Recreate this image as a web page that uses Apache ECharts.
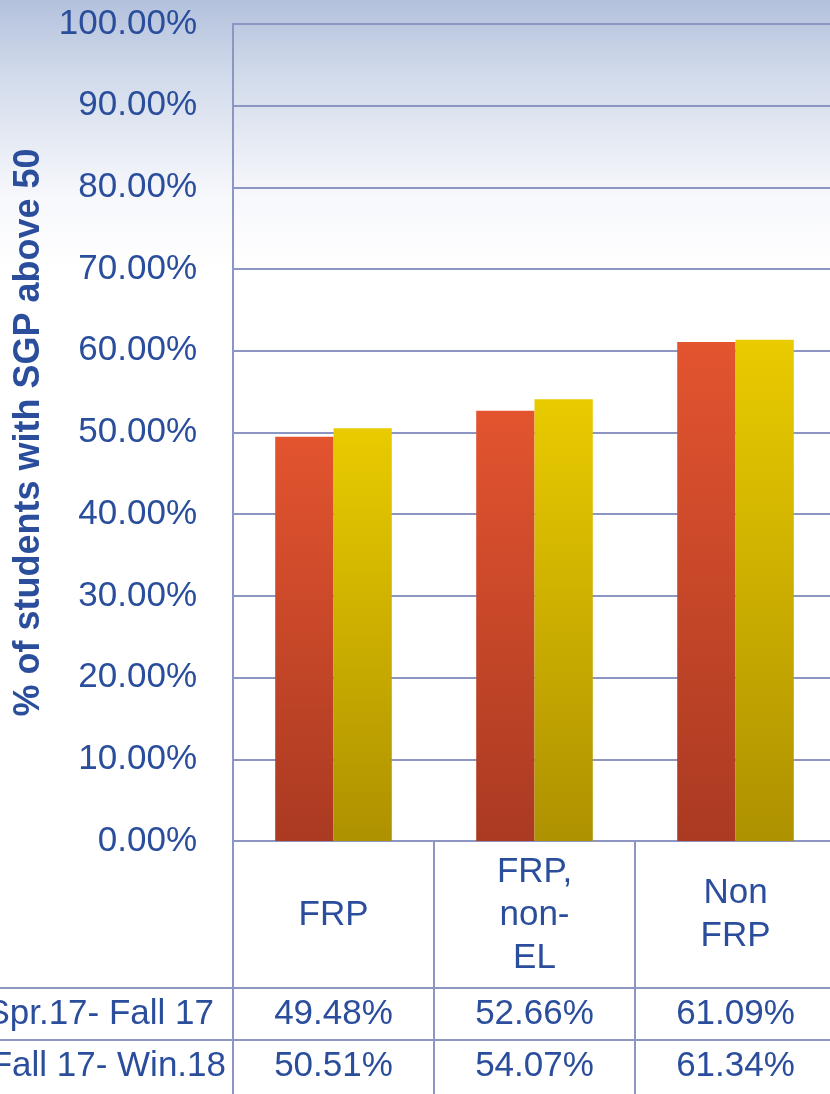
<!DOCTYPE html>
<html>
<head>
<meta charset="utf-8">
<script src="https://cdn.jsdelivr.net/npm/echarts@6/dist/echarts.min.js"></script>
<style>
  html, body { margin: 0; padding: 0; background: #fff; }
  #main { width: 830px; height: 1094px; }
</style>
</head>
<body>
<div id="main"></div>
<script>
// data
var categories = ['FRP', 'FRP,\nnon-\nEL', 'Non\nFRP'];
var seriesNames = ['Spr.17- Fall 17', 'Fall 17- Win.18'];
var spr17Fall17 = [0.4948, 0.5266, 0.6109];
var fall17Win18 = [0.5051, 0.5407, 0.6134];

var blue = '#2b4e9c';
var gridColor = '#8d95c2';
var font = 'Liberation Sans';

var myChart = echarts.init(document.getElementById('main'));

function pct(v) {
    return (v * 100).toFixed(2) + '%';
}

function barColor(top, bottom) {
    return new echarts.graphic.LinearGradient(0, 0, 0, 1, [
        { offset: 0, color: top },
        { offset: 1, color: bottom }
    ]);
}

// table row axes (under the category axis)
function rowAxis(name, values, offset, gap) {
    return {
        type: 'category',
        data: categories,
        position: 'bottom',
        offset: offset,
        axisLine: { show: true, lineStyle: { color: gridColor, width: 2 } },
        axisTick: { show: false },
        axisLabel: {
            margin: 26,
            verticalAlign: 'middle',
            fontFamily: font,
            fontSize: 35,
            color: blue,
            formatter: function (v, i) { return pct(values[i]); }
        },
        name: name,
        nameLocation: 'start',
        nameGap: gap,
        nameTextStyle: {
            fontFamily: font,
            fontSize: 35,
            color: blue,
            align: 'right',
            verticalAlign: 'top',
            lineHeight: 52
        }
    };
}

option = {
    backgroundColor: new echarts.graphic.LinearGradient(0, 0, 0, 1, [
        { offset: 0, color: '#b3c1dc' },
        { offset: 0.07, color: '#d2dbeb' },
        { offset: 0.18, color: '#f7f8fc' },
        { offset: 0.25, color: '#ffffff' },
        { offset: 1, color: '#ffffff' }
    ]),
    grid: {
        left: 233,
        right: -6,
        top: 24,
        bottom: 253,
        containLabel: false,
        outerBoundsMode: 'none'
    },
    xAxis: [{
        type: 'category',
        data: categories,
        position: 'bottom',
        axisLine: { show: true, lineStyle: { color: gridColor, width: 2 } },
        axisTick: {
            show: true,
            interval: 0,
            length: 253,
            lineStyle: { color: gridColor, width: 2 }
        },
        axisLabel: {
            margin: 74,
            verticalAlign: 'middle',
            fontFamily: font,
            fontSize: 35,
            lineHeight: 43,
            color: blue,
            interval: 0
        }
    },
        rowAxis(seriesNames[0], spr17Fall17, 147, 19),
        rowAxis(seriesNames[1], fall17Win18, 199, 7)
    ],
    yAxis: {
        type: 'value',
        min: 0,
        max: 1,
        interval: 0.1,
        axisLine: { show: true, lineStyle: { color: gridColor, width: 2 } },
        axisTick: { show: false },
        splitLine: { lineStyle: { color: gridColor, width: 2 } },
        axisLabel: {
            margin: 36,
            fontFamily: font,
            fontSize: 35,
            color: blue,
            formatter: pct
        },
        name: '% of students with SGP above 50',
        nameLocation: 'middle',
        nameRotate: 90,
        nameGap: 186,
        nameTextStyle: {
            fontFamily: font,
            fontSize: 36,
            fontWeight: 'bold',
            color: blue
        }
    },
    series: [{
        name: seriesNames[0],
        type: 'bar',
        data: spr17Fall17,
        barGap: 0,
        barCategoryGap: '42%',
        itemStyle: {
            color: barColor('#e3542f', '#aa3a22'),
            shadowBlur: 6,
            shadowOffsetX: 2,
            shadowColor: 'rgba(0,0,0,0.25)'
        }
    }, {
        name: seriesNames[1],
        type: 'bar',
        data: fall17Win18,
        barGap: 0,
        barCategoryGap: '42%',
        itemStyle: {
            color: barColor('#e9cb00', '#ae9100'),
            shadowBlur: 6,
            shadowOffsetX: 2,
            shadowColor: 'rgba(0,0,0,0.25)'
        }
    }],
    // table row borders continue left of the plot
    graphic: [{
        type: 'line',
        shape: { x1: 0, y1: 988, x2: 233, y2: 988 },
        style: { stroke: gridColor, lineWidth: 2 }
    }, {
        type: 'line',
        shape: { x1: 0, y1: 1040, x2: 233, y2: 1040 },
        style: { stroke: gridColor, lineWidth: 2 }
    }]
};

myChart.setOption(option);
</script>
</body>
</html>
